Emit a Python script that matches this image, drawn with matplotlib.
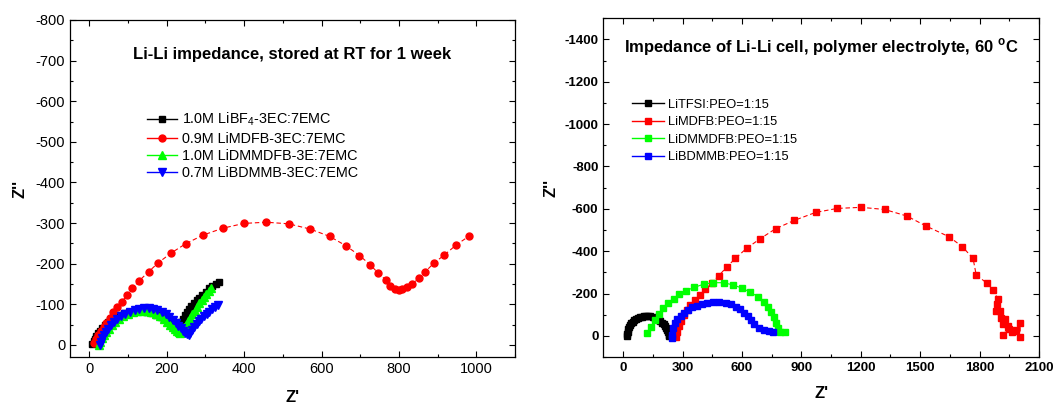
import numpy as np
import matplotlib
matplotlib.use("Agg")
import matplotlib.pyplot as plt
from matplotlib.lines import Line2D
from matplotlib.ticker import MultipleLocator

plt.rcParams['font.family'] = ['Liberation Sans', 'DejaVu Sans']
plt.rcParams['axes.unicode_minus'] = False
plt.rcParams['mathtext.fontset'] = 'custom'
plt.rcParams['mathtext.rm'] = 'Liberation Sans'
plt.rcParams['mathtext.bf'] = 'Liberation Sans:bold'

# ---- liquid electrolytes, Li-Li cells stored at RT for 1 week ----
liquid_labels = ['1.0M LiBF$_4$-3EC:7EMC', '0.9M LiMDFB-3EC:7EMC',
                 '1.0M LiDMMDFB-3E:7EMC', '0.7M LiBDMMB-3EC:7EMC']

bf4_re = [8, 11, 14, 18, 22, 27, 33, 40, 48, 57, 67, 78, 90, 102, 114, 126, 138, 150,
          162, 173, 184, 194, 203, 211, 218, 224, 229, 233, 237, 241, 246, 251, 257,
          263, 270, 277, 284, 292, 301, 310, 318, 326, 334]
bf4_im = [-3, -9, -15, -21, -28, -35, -42, -49, -56, -63, -69, -74, -79, -82, -84, -85,
          -84, -82, -78, -74, -69, -63, -58, -53, -49, -46, -45, -48, -56, -64, -73, -81,
          -89, -96, -103, -110, -116, -123, -131, -139, -145, -150, -155]

mdfb_re = [12, 17, 23, 30, 37, 44, 52, 62, 72, 84, 97, 111, 129, 153, 178, 211, 249,
           293, 344, 399, 457, 515, 571, 621, 663, 698, 726, 747, 766, 778, 790, 800,
           809, 821, 834, 851, 868, 890, 917, 948, 980]
mdfb_im = [-5, -14, -23, -33, -44, -55, -66, -80, -93, -106, -122, -139, -158, -180,
           -202, -226, -249, -270, -287, -299, -302, -298, -285, -267, -244, -220, -197,
           -176, -160, -146, -137, -135, -137, -142, -150, -164, -180, -201, -221, -246,
           -267]

dmmdfb_re = [25, 28, 32, 37, 43, 50, 58, 67, 77, 88, 100, 112, 124, 136, 148, 160, 171,
             182, 192, 201, 209, 216, 222, 227, 231, 235, 240, 245, 250, 255, 260, 266,
             272, 278, 284, 290, 296, 302, 308, 313]
dmmdfb_im = [0, -8, -16, -24, -32, -40, -48, -56, -63, -70, -76, -80, -83, -84, -83, -80,
             -76, -70, -64, -57, -50, -44, -38, -34, -31, -30, -36, -43, -50, -58, -66,
             -75, -84, -93, -102, -111, -119, -126, -133, -140]

bdmmb_re = [28, 30, 33, 37, 42, 48, 55, 63, 72, 82, 93, 105, 117, 129, 141, 153, 165,
            176, 187, 197, 206, 215, 223, 230, 237, 243, 248, 253, 257, 261, 266, 271,
            277, 283, 289, 296, 303, 310, 317, 324, 332]
bdmmb_im = [0, -8, -16, -24, -32, -40, -48, -56, -63, -70, -76, -82, -86, -89, -91, -91,
            -89, -86, -81, -75, -68, -61, -54, -47, -41, -35, -30, -27, -25, -30, -37,
            -44, -51, -58, -64, -70, -76, -82, -88, -93, -99]

# ---- polymer electrolytes (PEO), 60 C ----
polymer_labels = ['LiTFSI:PEO=1:15', 'LiMDFB:PEO=1:15',
                  'LiDMMDFB:PEO=1:15', 'LiBDMMB:PEO=1:15']

tfsi_re = [20, 21, 23, 26, 30, 35, 41, 48, 56, 65, 74, 84, 94, 105, 116, 127, 138, 149,
           159, 169, 179, 188, 196, 204, 211, 217, 222, 226, 229, 231]
tfsi_im = [3, -8, -19, -30, -40, -50, -59, -67, -74, -80, -85, -89, -91, -93, -93, -93,
           -92, -89, -86, -81, -75, -69, -62, -54, -45, -36, -26, -16, -6, 3]

pmdfb_re = [268, 273, 281, 292, 305, 321, 340, 362, 387, 414, 447, 484, 522, 567, 623,
            689, 770, 863, 972, 1082, 1202, 1320, 1433, 1529, 1646, 1713, 1767, 1783,
            1838, 1869, 1893, 1888, 1884, 1904, 1906, 1930, 1920, 1942, 1920, 1948, 1962,
            1975, 1985, 2005, 2005]
pmdfb_im = [6, -20, -46, -72, -98, -122, -146, -170, -193, -219, -251, -285, -324, -366,
            -413, -457, -506, -545, -583, -602, -607, -597, -566, -519, -468, -421, -366,
            -288, -248, -217, -173, -150, -118, -118, -85, -80, -58, -45, -5, -30, -20,
            -22, -27, -60, 5]

pdmmdfb_re = [119, 140, 162, 183, 203, 228, 255, 284, 318, 360, 406, 456, 507, 557, 601,
              642, 681, 709, 732, 748, 762, 774, 782, 794, 816]
pdmmdfb_im = [-13, -44, -75, -104, -131, -154, -174, -196, -214, -229, -244, -251, -251,
              -240, -225, -206, -185, -162, -138, -115, -91, -63, -36, -20, -17]

pbdmmb_re = [245, 247, 252, 262, 274, 290, 309, 329, 350, 371, 397, 422, 452, 486, 518,
             545, 570, 591, 611, 628, 645, 662, 684, 709, 735, 758]
pbdmmb_im = [10, -5, -36, -60, -79, -96, -110, -123, -134, -141, -149, -157, -160, -160,
             -157, -149, -138, -126, -110, -94, -75, -55, -39, -28, -24, -20]

fig = plt.figure(figsize=(10.63, 4.03), dpi=100)
ax1 = fig.add_axes([0.0659, 0.1141, 0.4186, 0.8363])
ax2 = fig.add_axes([0.5676, 0.1141, 0.4098, 0.8405])

dash = (0, (4, 2.5))

# left panel
ax1.plot(bf4_re, bf4_im, color='black', lw=0.8, marker='s', ms=4.2, mec='black')
ax1.plot(mdfb_re, mdfb_im, color='red', lw=0.8, ls=dash, marker='o', ms=5, mec='red')
ax1.plot(dmmdfb_re, dmmdfb_im, color='#00ff00', lw=0.8, marker='^', ms=6, mec='#00ff00')
ax1.plot(bdmmb_re, bdmmb_im, color='blue', lw=0.8, marker='v', ms=6, mec='blue')

ax1.set_xlim(-50, 1100)
ax1.set_ylim(30, -800)
ax1.xaxis.set_major_locator(MultipleLocator(200))
ax1.xaxis.set_minor_locator(MultipleLocator(100))
ax1.yaxis.set_major_locator(MultipleLocator(100))
ax1.yaxis.set_minor_locator(MultipleLocator(50))
ax1.set_xlabel("Z'", fontsize=12, fontweight='bold', labelpad=10)
ax1.set_ylabel("Z''", fontsize=12, fontweight='bold', labelpad=6)
ax1.text(0.5, 0.899, 'Li-Li impedance, stored at RT for 1 week', transform=ax1.transAxes,
         ha='center', va='center', fontsize=12, fontweight='bold')

h1 = [Line2D([], [], color='black', lw=1, marker='s', ms=4.2),
      Line2D([], [], color='red', lw=1, marker='o', ms=5),
      Line2D([], [], color='#00ff00', lw=1, marker='^', ms=6),
      Line2D([], [], color='blue', lw=1, marker='v', ms=6)]
ax1.legend(h1, liquid_labels, loc='upper left', bbox_to_anchor=(0.173, 0.73),
           frameon=False, fontsize=10.4, handlelength=2.1, handletextpad=0.35,
           labelspacing=0.22, borderpad=0, borderaxespad=0)

# right panel
ax2.plot(tfsi_re, tfsi_im, color='black', lw=0.8, marker='s', ms=4.2)
ax2.plot(pmdfb_re, pmdfb_im, color='red', lw=0.8, ls=dash, marker='s', ms=4.2)
ax2.plot(pdmmdfb_re, pdmmdfb_im, color='#00ff00', lw=0.8, marker='s', ms=4.2)
ax2.plot(pbdmmb_re, pbdmmb_im, color='blue', lw=0.8, marker='s', ms=4.2)

ax2.set_xlim(-100, 2100)
ax2.set_ylim(100, -1500)
ax2.xaxis.set_major_locator(MultipleLocator(300))
ax2.xaxis.set_minor_locator(MultipleLocator(150))
ax2.yaxis.set_major_locator(MultipleLocator(200))
ax2.yaxis.set_minor_locator(MultipleLocator(100))
ax2.set_xlabel("Z'", fontsize=12, fontweight='bold', labelpad=9)
ax2.set_ylabel("Z''", fontsize=12, fontweight='bold', labelpad=4)
ax2.text(0.5, 0.915, r'Impedance of Li-Li cell, polymer electrolyte, 60 $^{\mathbf{o}}$C',
         transform=ax2.transAxes, ha='center', va='center', fontsize=12, fontweight='bold')

h2 = [Line2D([], [], color=c, lw=1, marker='s', ms=4.2)
      for c in ['black', 'red', '#00ff00', 'blue']]
ax2.legend(h2, polymer_labels, loc='upper left', bbox_to_anchor=(0.065, 0.762),
           frameon=False, fontsize=9.3, handlelength=2.5, handletextpad=0.3,
           labelspacing=0.42, borderpad=0, borderaxespad=0)

for ax, weight, size in [(ax1, 'normal', 10.5), (ax2, 'bold', 9.5)]:
    ax.tick_params(which='both', direction='in', top=True, right=True, labelsize=size)
    ax.tick_params(which='major', length=4, width=0.8)
    ax.tick_params(which='minor', length=2.5, width=0.8)
    for lbl in ax.get_xticklabels() + ax.get_yticklabels():
        lbl.set_fontweight(weight)
    for sp in ax.spines.values():
        sp.set_linewidth(0.9)

fig.savefig('out.png', dpi=100)
